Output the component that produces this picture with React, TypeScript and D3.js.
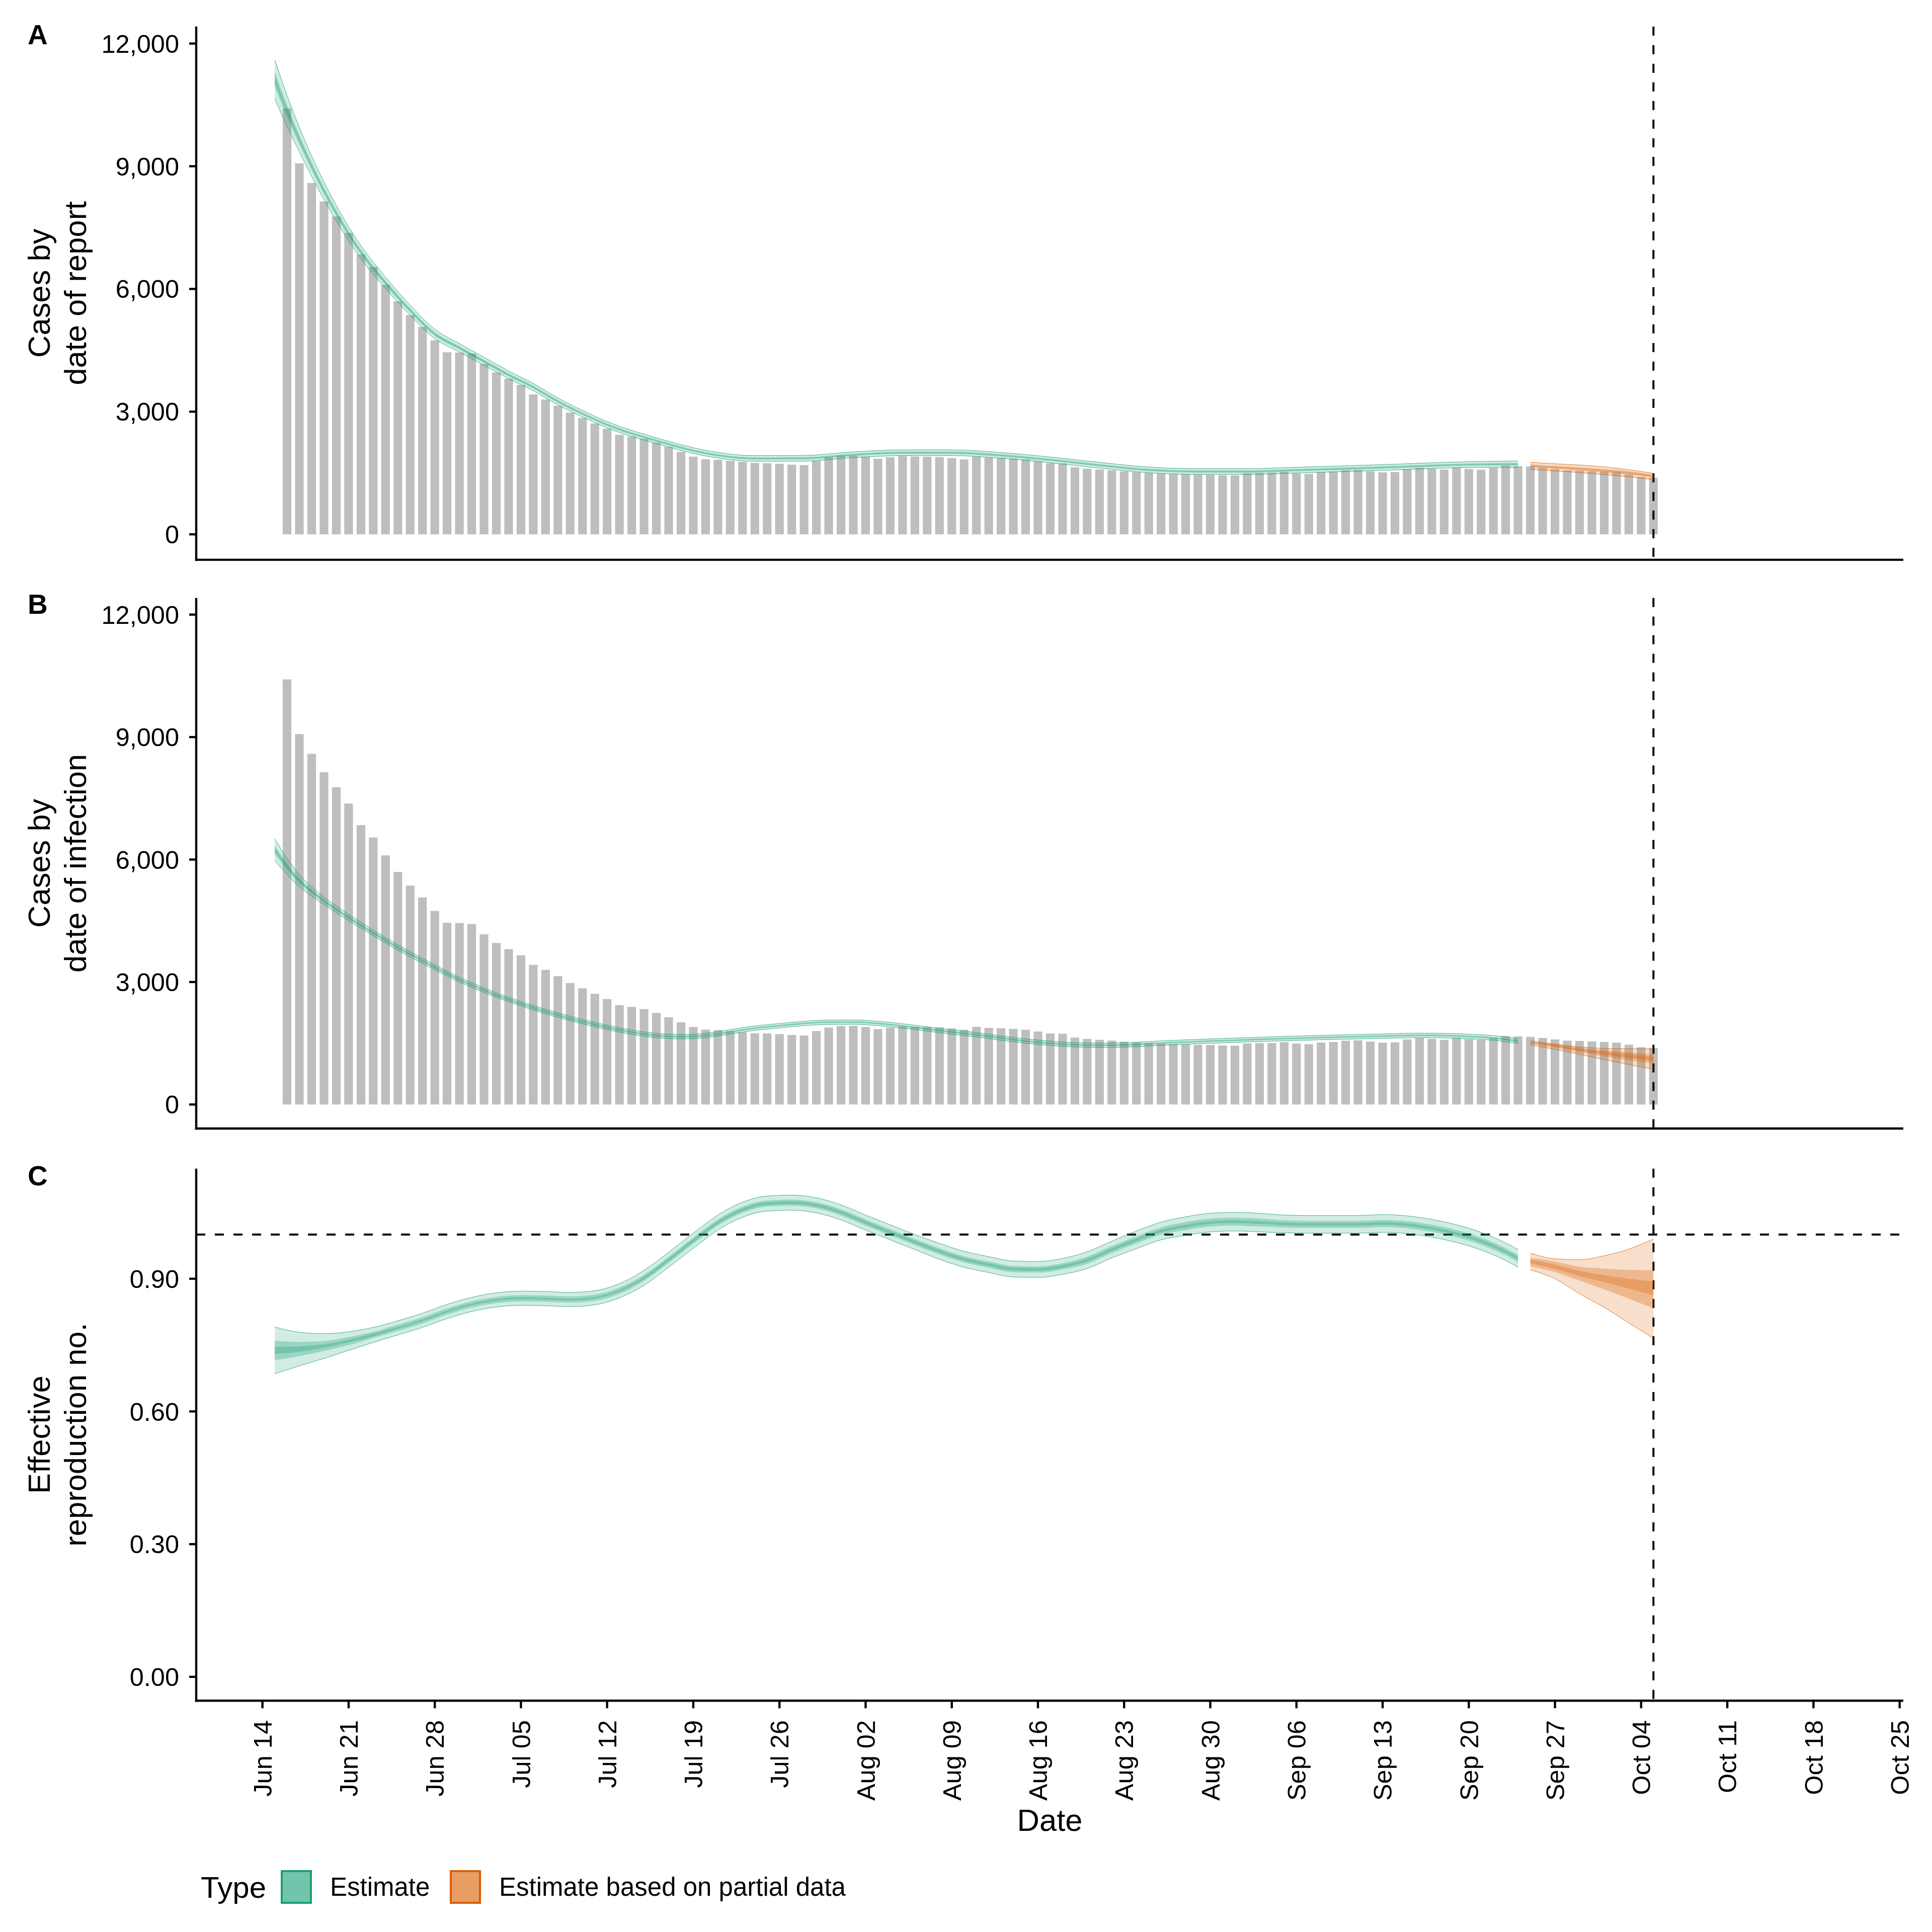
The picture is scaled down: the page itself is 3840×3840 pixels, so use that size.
import React from "react";
import * as d3 from "d3";

// ---------- data ----------
const BASE = Date.UTC(2020, 5, 14); // Jun 14 2020 = day 0
const DAY = 86400000;
const dayToDate = (d: number) => new Date(BASE + d * DAY);

const tickDays = [0, 7, 14, 21, 28, 35, 42, 49, 56, 63, 70, 77, 84, 91, 98, 105, 112, 119, 126, 133];
const tickLabels = [
  "Jun 14", "Jun 21", "Jun 28", "Jul 05", "Jul 12", "Jul 19", "Jul 26", "Aug 02", "Aug 09", "Aug 16",
  "Aug 23", "Aug 30", "Sep 06", "Sep 13", "Sep 20", "Sep 27", "Oct 04", "Oct 11", "Oct 18", "Oct 25",
];

const casesTicks = [0, 3000, 6000, 9000, 12000];
const rtTicks = [0, 0.3, 0.6, 0.9];

const casesFirstDay = 2; // Jun 16
const reportedCases = [
  10414, 9073, 8590, 8139, 7772, 7372, 6844, 6541, 6102, 5696,
  5361, 5071, 4742, 4451, 4445, 4420, 4168, 3956, 3807, 3653,
  3421, 3298, 3144, 2976, 2847, 2711, 2583, 2434, 2390, 2338,
  2242, 2138, 2016, 1899, 1835, 1823, 1797, 1771, 1745, 1740,
  1725, 1704, 1692, 1799, 1885, 1922, 1926, 1898, 1848, 1885,
  1914, 1902, 1898, 1889, 1865, 1832, 1902, 1877, 1869, 1852,
  1832, 1787, 1741, 1733, 1639, 1606, 1585, 1565, 1540, 1520,
  1503, 1487, 1478, 1470, 1462, 1458, 1446, 1442, 1495, 1503,
  1507, 1528, 1491, 1478, 1520, 1532, 1565, 1573, 1540, 1515,
  1524, 1594, 1627, 1606, 1585, 1635, 1598, 1581, 1627, 1680,
  1667, 1659, 1630, 1594, 1565, 1557, 1544, 1532, 1515, 1466,
  1404, 1384,
];

// rows: [day, lower90, lower50, lower20, upper20, upper50, upper90]
const reportEstimate = [
  [1, 10650, 10935, 11050, 11200, 11315, 11600],
  [2, 9970, 10200, 10290, 10410, 10500, 10730],
  [3, 9350, 9530, 9602, 9698, 9770, 9950],
  [4, 8750, 8900, 8960, 9040, 9100, 9250],
  [5, 8185, 8314, 8366, 8434, 8486, 8615],
  [6, 7660, 7774, 7820, 7880, 7926, 8040],
  [8, 6740, 6836, 6874, 6926, 6964, 7060],
  [10, 6010, 6094, 6128, 6172, 6206, 6290],
  [12, 5355, 5430, 5460, 5500, 5530, 5605],
  [14, 4785, 4854, 4882, 4918, 4946, 5015],
  [16, 4455, 4518, 4543, 4577, 4602, 4665],
  [18, 4130, 4190, 4214, 4246, 4270, 4330],
  [20, 3805, 3862, 3885, 3915, 3938, 3995],
  [22, 3510, 3564, 3586, 3614, 3636, 3690],
  [24, 3165, 3216, 3237, 3263, 3284, 3335],
  [26, 2870, 2918, 2937, 2963, 2982, 3030],
  [28, 2602, 2649, 2668, 2692, 2711, 2758],
  [32, 2218, 2261, 2279, 2301, 2319, 2362],
  [36, 1915, 1957, 1974, 1996, 2013, 2055],
  [40, 1785, 1827, 1844, 1866, 1883, 1925],
  [44, 1790, 1832, 1849, 1871, 1888, 1930],
  [48, 1875, 1917, 1934, 1956, 1973, 2015],
  [52, 1925, 1967, 1984, 2006, 2023, 2065],
  [56, 1925, 1967, 1984, 2006, 2023, 2065],
  [60, 1860, 1902, 1919, 1941, 1958, 2000],
  [64, 1750, 1792, 1809, 1831, 1848, 1890],
  [68, 1620, 1662, 1679, 1701, 1718, 1760],
  [72, 1505, 1547, 1564, 1586, 1603, 1645],
  [76, 1465, 1507, 1524, 1546, 1563, 1605],
  [80, 1465, 1507, 1524, 1546, 1563, 1605],
  [84, 1500, 1542, 1559, 1581, 1598, 1640],
  [88, 1535, 1577, 1594, 1616, 1633, 1675],
  [92, 1575, 1617, 1634, 1656, 1673, 1715],
  [96, 1620, 1662, 1679, 1701, 1718, 1760],
  [100, 1637, 1682, 1700, 1724, 1742, 1787],
  [102, 1634, 1682, 1701, 1727, 1746, 1794],
];
const reportPartial = [
  [103, 1590, 1640, 1662, 1688, 1710, 1760],
  [105, 1550, 1602, 1624, 1652, 1674, 1725],
  [107, 1510, 1564, 1587, 1617, 1640, 1695],
  [109, 1462, 1518, 1541, 1573, 1596, 1650],
  [111, 1405, 1462, 1486, 1520, 1544, 1580],
  [113, 1337, 1390, 1410, 1440, 1460, 1493],
];

const infectionEstimate = [
  [1, 5970, 6135, 6198, 6282, 6345, 6510],
  [2, 5630, 5752, 5799, 5861, 5908, 6030],
  [3, 5330, 5422, 5457, 5503, 5538, 5630],
  [4, 5105, 5175, 5202, 5238, 5265, 5335],
  [5, 4895, 4953, 4975, 5005, 5027, 5085],
  [6, 4695, 4747, 4767, 4793, 4813, 4865],
  [7, 4502, 4550, 4568, 4592, 4610, 4658],
  [8, 4316, 4361, 4379, 4401, 4419, 4464],
  [10, 3950, 3993, 4009, 4031, 4047, 4090],
  [12, 3614, 3654, 3670, 3690, 3706, 3746],
  [14, 3298, 3336, 3350, 3370, 3384, 3422],
  [16, 3000, 3037, 3051, 3069, 3083, 3120],
  [18, 2742, 2778, 2791, 2809, 2822, 2858],
  [20, 2514, 2548, 2561, 2579, 2592, 2626],
  [22, 2315, 2349, 2362, 2378, 2391, 2425],
  [24, 2135, 2169, 2182, 2198, 2211, 2245],
  [26, 1975, 2009, 2022, 2038, 2051, 2085],
  [28, 1836, 1869, 1882, 1898, 1911, 1944],
  [30, 1716, 1749, 1762, 1778, 1791, 1824],
  [32, 1636, 1669, 1682, 1698, 1711, 1744],
  [34, 1606, 1639, 1652, 1668, 1681, 1714],
  [36, 1636, 1669, 1682, 1698, 1711, 1744],
  [38, 1726, 1759, 1772, 1788, 1801, 1834],
  [40, 1816, 1849, 1862, 1878, 1891, 1924],
  [42, 1876, 1909, 1922, 1938, 1951, 1984],
  [44, 1931, 1964, 1977, 1993, 2006, 2039],
  [46, 1961, 1994, 2007, 2023, 2036, 2069],
  [48, 1964, 1997, 2010, 2026, 2039, 2072],
  [50, 1931, 1964, 1977, 1993, 2006, 2039],
  [52, 1871, 1904, 1917, 1933, 1946, 1979],
  [54, 1796, 1829, 1842, 1858, 1871, 1904],
  [56, 1721, 1754, 1767, 1783, 1796, 1829],
  [58, 1656, 1689, 1702, 1718, 1731, 1764],
  [60, 1573, 1606, 1619, 1635, 1648, 1681],
  [62, 1501, 1534, 1547, 1563, 1576, 1609],
  [64, 1446, 1479, 1492, 1508, 1521, 1554],
  [66, 1408, 1441, 1454, 1470, 1483, 1516],
  [68, 1396, 1429, 1442, 1458, 1471, 1504],
  [70, 1404, 1437, 1450, 1466, 1479, 1512],
  [72, 1433, 1466, 1479, 1495, 1508, 1541],
  [74, 1464, 1497, 1510, 1526, 1539, 1572],
  [76, 1488, 1521, 1534, 1550, 1563, 1596],
  [78, 1509, 1542, 1555, 1571, 1584, 1617],
  [82, 1552, 1585, 1598, 1614, 1627, 1660],
  [86, 1586, 1619, 1632, 1648, 1661, 1694],
  [90, 1614, 1647, 1660, 1676, 1689, 1722],
  [94, 1636, 1670, 1684, 1700, 1714, 1748],
  [96, 1632, 1666, 1680, 1696, 1710, 1744],
  [98, 1608, 1643, 1656, 1674, 1687, 1722],
  [100, 1572, 1607, 1621, 1639, 1653, 1688],
  [102, 1495, 1531, 1546, 1564, 1579, 1615],
];
const infectionPartial = [
  [103, 1462, 1494, 1507, 1525, 1538, 1565],
  [105, 1350, 1400, 1422, 1458, 1478, 1480],
  [107, 1230, 1290, 1318, 1362, 1390, 1410],
  [109, 1100, 1180, 1228, 1292, 1330, 1375],
  [111, 980, 1085, 1145, 1235, 1280, 1365],
  [113, 860, 1010, 1080, 1160, 1225, 1360],
];

const rtEstimate = [
  [1, 0.685, 0.716, 0.730, 0.746, 0.760, 0.791],
  [3, 0.703, 0.725, 0.735, 0.747, 0.757, 0.779],
  [5, 0.720, 0.737, 0.744, 0.752, 0.759, 0.776],
  [7, 0.738, 0.750, 0.756, 0.762, 0.768, 0.780],
  [9, 0.756, 0.766, 0.770, 0.776, 0.780, 0.790],
  [11, 0.773, 0.782, 0.787, 0.791, 0.796, 0.805],
  [13, 0.790, 0.799, 0.804, 0.808, 0.813, 0.822],
  [15, 0.810, 0.819, 0.824, 0.828, 0.833, 0.842],
  [17, 0.826, 0.835, 0.840, 0.844, 0.849, 0.858],
  [19, 0.836, 0.845, 0.850, 0.854, 0.859, 0.868],
  [21, 0.840, 0.849, 0.854, 0.858, 0.863, 0.872],
  [23, 0.839, 0.848, 0.853, 0.857, 0.862, 0.871],
  [25, 0.837, 0.846, 0.851, 0.855, 0.860, 0.869],
  [27, 0.841, 0.850, 0.855, 0.859, 0.864, 0.873],
  [29, 0.857, 0.866, 0.871, 0.875, 0.880, 0.889],
  [31, 0.885, 0.895, 0.899, 0.905, 0.909, 0.919],
  [33, 0.926, 0.936, 0.940, 0.946, 0.950, 0.960],
  [35, 0.969, 0.979, 0.983, 0.989, 0.993, 1.003],
  [37, 1.010, 1.020, 1.024, 1.030, 1.034, 1.044],
  [39, 1.039, 1.049, 1.053, 1.059, 1.063, 1.073],
  [41, 1.053, 1.063, 1.067, 1.073, 1.077, 1.087],
  [43, 1.055, 1.065, 1.069, 1.075, 1.079, 1.089],
  [45, 1.049, 1.059, 1.063, 1.069, 1.073, 1.083],
  [47, 1.033, 1.043, 1.047, 1.053, 1.057, 1.067],
  [49, 1.010, 1.020, 1.024, 1.030, 1.034, 1.044],
  [51, 0.988, 0.998, 1.002, 1.008, 1.012, 1.022],
  [53, 0.966, 0.976, 0.980, 0.986, 0.990, 1.000],
  [55, 0.944, 0.955, 0.959, 0.965, 0.969, 0.980],
  [57, 0.926, 0.937, 0.941, 0.947, 0.951, 0.962],
  [59, 0.914, 0.925, 0.929, 0.935, 0.939, 0.950],
  [61, 0.904, 0.915, 0.919, 0.925, 0.929, 0.940],
  [63, 0.903, 0.914, 0.918, 0.924, 0.928, 0.939],
  [65, 0.910, 0.921, 0.925, 0.931, 0.935, 0.946],
  [67, 0.923, 0.934, 0.939, 0.945, 0.950, 0.961],
  [69, 0.947, 0.958, 0.963, 0.969, 0.974, 0.985],
  [71, 0.968, 0.980, 0.985, 0.991, 0.996, 1.008],
  [73, 0.988, 1.000, 1.005, 1.011, 1.016, 1.028],
  [75, 0.998, 1.010, 1.016, 1.022, 1.028, 1.040],
  [77, 1.006, 1.018, 1.024, 1.030, 1.036, 1.048],
  [79, 1.008, 1.020, 1.026, 1.032, 1.038, 1.050],
  [81, 1.006, 1.018, 1.024, 1.030, 1.036, 1.048],
  [83, 1.004, 1.016, 1.021, 1.027, 1.032, 1.044],
  [85, 1.003, 1.015, 1.020, 1.026, 1.031, 1.043],
  [87, 1.003, 1.015, 1.020, 1.026, 1.031, 1.043],
  [89, 1.003, 1.015, 1.020, 1.026, 1.031, 1.043],
  [91, 1.005, 1.017, 1.022, 1.028, 1.033, 1.045],
  [93, 1.002, 1.014, 1.019, 1.025, 1.030, 1.042],
  [95, 0.994, 1.006, 1.011, 1.017, 1.022, 1.034],
  [97, 0.982, 0.994, 0.999, 1.005, 1.010, 1.022],
  [99, 0.965, 0.977, 0.982, 0.988, 0.993, 1.005],
  [101, 0.941, 0.953, 0.958, 0.964, 0.969, 0.981],
  [102, 0.926, 0.938, 0.943, 0.949, 0.954, 0.966],
];
const rtPartial = [
  [103, 0.920, 0.928, 0.935, 0.943, 0.947, 0.958],
  [105, 0.900, 0.915, 0.922, 0.932, 0.939, 0.945],
  [107, 0.866, 0.896, 0.906, 0.918, 0.927, 0.943],
  [109, 0.835, 0.876, 0.892, 0.908, 0.923, 0.952],
  [111, 0.800, 0.855, 0.878, 0.900, 0.920, 0.967],
  [113, 0.765, 0.833, 0.862, 0.894, 0.919, 0.990],
];

const forecastDay = 113; // Oct 05, vertical dashed line
const rtReference = 1;

// ---------- styling ----------
const GREEN = "#1b9e77";
const ORANGE = "#d95f02";
const BAR = "#bebebe";
const FONT = "'Liberation Sans', Arial, Helvetica, sans-serif";
const TICK_FS = 50.5;
const TITLE_FS = 61.5;

const X0 = 390;
const X1 = 3783;
const x = d3.scaleUtc().domain([dayToDate(-5.38), dayToDate(133.3)]).range([X0, X1]);
const pxPerDay = x(dayToDate(1)) - x(dayToDate(0));
const barW = pxPerDay * 0.703;

type Row = number[];

function Bands({ rows, color, y }: { rows: Row[]; color: string; y: d3.ScaleLinear<number, number> }) {
  const xa = (r: Row) => x(dayToDate(r[0]));
  const area = (i0: number, i1: number) =>
    d3.area<Row>().x(xa).y0((r) => y(r[i0])).y1((r) => y(r[i1])).curve(d3.curveMonotoneX)(rows) || "";
  const line = (i: number) => d3.line<Row>().x(xa).y((r) => y(r[i])).curve(d3.curveMonotoneX)(rows) || "";
  return (
    <g>
      <path d={area(1, 6)} fill={color} fillOpacity={0.2} stroke="none" />
      <path d={line(1)} fill="none" stroke={color} strokeWidth={0.9} strokeOpacity={0.9} />
      <path d={line(6)} fill="none" stroke={color} strokeWidth={0.9} strokeOpacity={0.9} />
      <path d={area(2, 5)} fill={color} fillOpacity={0.3} stroke="none" />
      <path d={area(3, 4)} fill={color} fillOpacity={0.3} stroke="none" />
    </g>
  );
}

interface PanelProps {
  top: number;
  bottom: number;
  domain: [number, number];
  ticks: number[];
  fmt: (v: number) => string;
  bars?: boolean;
  estimate: Row[];
  partial: Row[];
  tag: string;
  tagY: number;
  title: string[];
  hline?: number;
  xAxis?: boolean;
}

function Panel(p: PanelProps) {
  const y = d3.scaleLinear().domain(p.domain).range([p.bottom, p.top]);
  const cy = (p.top + p.bottom) / 2;
  const vx = x(dayToDate(forecastDay));
  return (
    <g>
      {p.bars &&
        reportedCases.map((v, i) => {
          const cx = x(dayToDate(casesFirstDay + i));
          return <rect key={i} x={cx - barW / 2} y={y(v)} width={barW} height={y(0) - y(v)} fill={BAR} />;
        })}
      <line x1={vx} x2={vx} y1={p.top} y2={p.bottom} stroke="#000" strokeWidth={4} strokeDasharray="18 19" />
      {p.hline !== undefined && (
        <line x1={X0} x2={X1} y1={y(p.hline)} y2={y(p.hline)} stroke="#000" strokeWidth={4} strokeDasharray="18 19" />
      )}
      <Bands rows={p.estimate} color={GREEN} y={y} />
      <Bands rows={p.partial} color={ORANGE} y={y} />
      {/* axes */}
      <line x1={X0} x2={X0} y1={p.top} y2={p.bottom + 2.2} stroke="#000" strokeWidth={4.4} />
      <line x1={X0 - 2.2} x2={X1} y1={p.bottom} y2={p.bottom} stroke="#000" strokeWidth={4.4} />
      {p.ticks.map((t) => (
        <g key={t}>
          <line x1={X0 - 14} x2={X0} y1={y(t)} y2={y(t)} stroke="#000" strokeWidth={4.4} />
          <text x={356} y={y(t)} dy="0.36em" textAnchor="end" fontSize={TICK_FS} fill="#000">
            {p.fmt(t)}
          </text>
        </g>
      ))}
      {p.xAxis &&
        tickDays.map((d, i) => {
          const tx = x(dayToDate(d));
          return (
            <g key={d}>
              <line x1={tx} x2={tx} y1={p.bottom} y2={p.bottom + 15} stroke="#000" strokeWidth={4.4} />
              <text
                transform={`translate(${tx},3419) rotate(-90)`}
                dy="0.36em"
                textAnchor="end"
                fontSize={TICK_FS}
                fill="#000"
              >
                {tickLabels[i]}
              </text>
            </g>
          );
        })}
      <text x={55} y={p.tagY} fontSize={55} fontWeight="bold" fill="#000">
        {p.tag}
      </text>
      {p.title.map((line, i) => (
        <text
          key={i}
          transform={`translate(${99 + i * 72},${cy}) rotate(-90)`}
          textAnchor="middle"
          fontSize={TITLE_FS}
          fill="#000"
        >
          {line}
        </text>
      ))}
    </g>
  );
}

function LegendKey({ x0, color }: { x0: number; color: string }) {
  const kw = 62;
  const kh = 67;
  const ky = 3717;
  return (
    <g>
      <rect x={x0} y={ky} width={kw} height={kh} fill="#fff" />
      <rect x={x0} y={ky} width={kw} height={kh} fill={color} fillOpacity={0.2} />
      <rect x={x0} y={ky} width={kw} height={kh} fill={color} fillOpacity={0.3} />
      <rect x={x0} y={ky} width={kw} height={kh} fill={color} fillOpacity={0.3} />
      <rect x={x0 + 2} y={ky + 2} width={kw - 4} height={kh - 4} fill="none" stroke={color} strokeWidth={4} />
    </g>
  );
}

export default function App() {
  const commaFmt = d3.format(",");
  const rtFmt = d3.format(".2f");
  return (
    <svg
      width={3840}
      height={3840}
      viewBox="0 0 3840 3840"
      style={{ position: "absolute", left: 0, top: 0, display: "block" }}
      fontFamily={FONT}
    >
      <rect width={3840} height={3840} fill="#fff" />
      <Panel
        top={52.8}
        bottom={1112.6}
        domain={[-622, 12415]}
        ticks={casesTicks}
        fmt={commaFmt}
        bars
        estimate={reportEstimate}
        partial={reportPartial}
        tag="A"
        tagY={88}
        title={["Cases by", "date of report"]}
      />
      <Panel
        top={1188.6}
        bottom={2243}
        domain={[-588, 12407]}
        ticks={casesTicks}
        fmt={commaFmt}
        bars
        estimate={infectionEstimate}
        partial={infectionPartial}
        tag="B"
        tagY={1220}
        title={["Cases by", "date of infection"]}
      />
      <Panel
        top={2322.7}
        bottom={3380.3}
        domain={[-0.054, 1.149]}
        ticks={rtTicks}
        fmt={rtFmt}
        estimate={rtEstimate}
        partial={rtPartial}
        tag="C"
        tagY={2356}
        title={["Effective", "reproduction no."]}
        hline={rtReference}
        xAxis
      />
      <text x={(X0 + X1) / 2} y={3639} textAnchor="middle" fontSize={TITLE_FS} fill="#000">
        Date
      </text>
      {/* legend */}
      <text x={399} y={3772} fontSize={60} fill="#000">
        Type
      </text>
      <LegendKey x0={558} color={GREEN} />
      <text x={656} y={3768} fontSize={51} fill="#000">
        Estimate
      </text>
      <LegendKey x0={894} color={ORANGE} />
      <text x={992} y={3768} fontSize={51} fill="#000">
        Estimate based on partial data
      </text>
    </svg>
  );
}
